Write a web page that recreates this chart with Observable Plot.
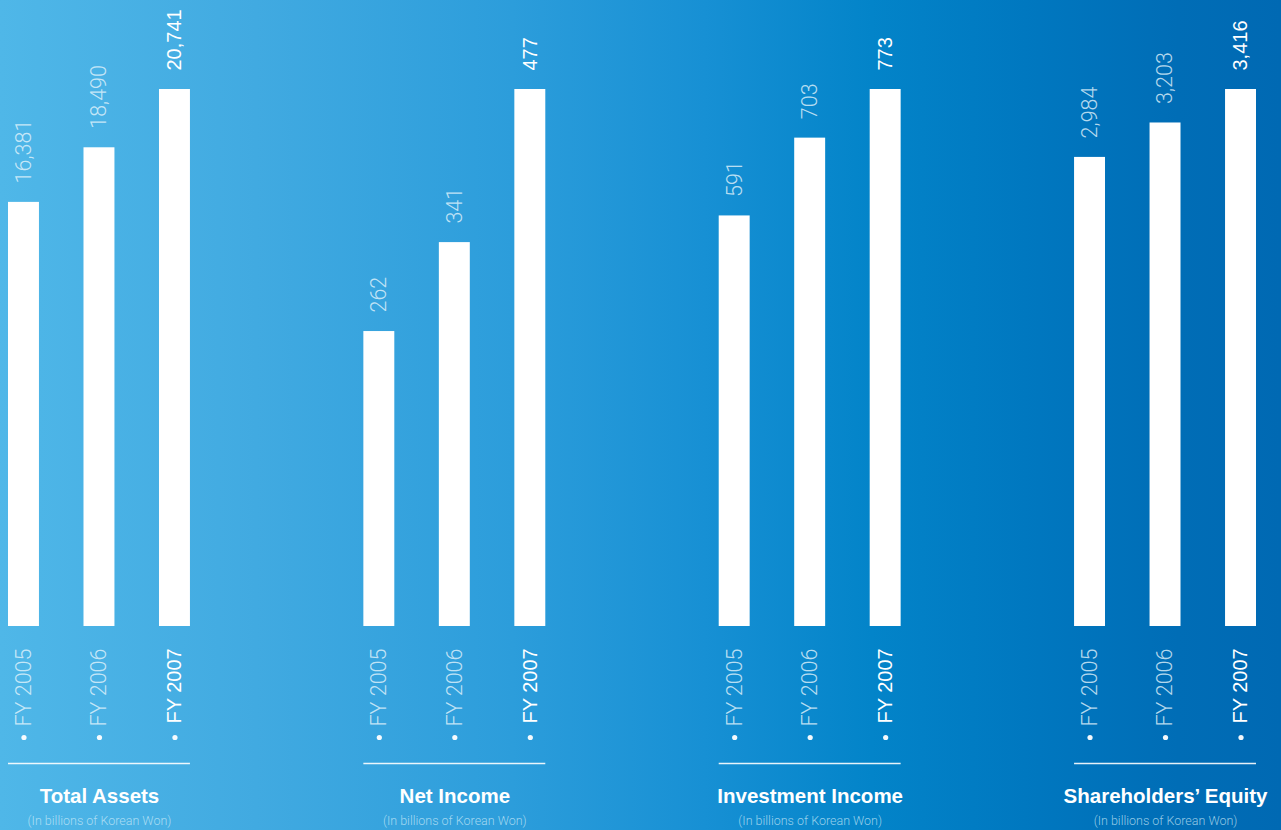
<!DOCTYPE html>
<html>
<head>
<meta charset="utf-8">
<script src="https://cdn.jsdelivr.net/npm/d3@7"></script>
<script src="https://cdn.jsdelivr.net/npm/@observablehq/plot@0.6"></script>
<style>
  html, body { margin: 0; padding: 0; }
  body { width: 1281px; height: 830px; overflow: hidden; }
  #chart svg { display: block; }
</style>
</head>
<body>
<div id="chart"></div>
<script>
const metrics = ["Total Assets", "Net Income", "Investment Income", "Shareholders’ Equity"];
const years = ["FY 2005", "FY 2006", "FY 2007"];
const totalAssets = [16381, 18490, 20741];
const netIncome = [262, 341, 477];
const investmentIncome = [591, 703, 773];
const shareholdersEquity = [2984, 3203, 3416];
const unitNote = "(In billions of Korean Won)";

const seriesValues = [totalAssets, netIncome, investmentIncome, shareholdersEquity];
const data = [];
metrics.forEach((m, i) => {
  const vals = seriesValues[i];
  const max = d3.max(vals);
  years.forEach((y, j) => data.push({metric: m, year: y, value: vals[j], norm: vals[j] / max, latest: j === years.length - 1}));
});
const older = data.filter(d => !d.latest);
const latest = data.filter(d => d.latest);
const fmt = d3.format(",");

const chart = Plot.plot({
  width: 1281,
  height: 830,
  marginTop: 89,
  marginBottom: 204,
  marginLeft: 8,
  marginRight: 25,
  style: {
    background: "linear-gradient(to right, #4fb7e8 0%, #41aae1 20%, #2c9ddb 40%, #1790d4 55%, #0384c9 68%, #0078c0 80%, #006db6 92%, #0069b3 100%)",
    color: "white"
  },
  fx: {domain: metrics, paddingInner: 0.488, paddingOuter: 0, round: false, axis: null},
  x: {domain: years, paddingInner: 0.59, paddingOuter: 0, round: false, axis: null},
  y: {domain: [0, 1], axis: null},
  marks: [
    Plot.barY(data, {fx: "metric", x: "year", y: "norm", fill: "white"}),
    Plot.text(older, {fx: "metric", x: "year", y: "norm", text: d => fmt(d.value), rotate: -90, textAnchor: "start", lineAnchor: "middle", dy: -19, fill: "#e6f5fc", fillOpacity: 0.8, fontSize: 21.5, fontFamily: "Roboto", fontWeight: 300}),
    Plot.text(latest, {fx: "metric", x: "year", y: "norm", text: d => fmt(d.value), rotate: -90, textAnchor: "start", lineAnchor: "middle", dy: -19, fill: "white", fontSize: 20, fontFamily: "Liberation Sans, Arial", fontWeight: 500}),
    Plot.dot(data, {fx: "metric", x: "year", frameAnchor: "bottom", dy: 111, r: 2.6, fill: "white", fillOpacity: 0.95}),
    Plot.text(older, {fx: "metric", x: "year", frameAnchor: "bottom", text: "year", rotate: -90, textAnchor: "start", lineAnchor: "middle", dy: 100, fill: "#e6f5fc", fillOpacity: 0.8, fontSize: 21.5, fontFamily: "Roboto", fontWeight: 300}),
    Plot.text(latest, {fx: "metric", x: "year", frameAnchor: "bottom", text: "year", rotate: -90, textAnchor: "start", lineAnchor: "middle", dy: 97, fill: "white", fontSize: 20, fontFamily: "Liberation Sans, Arial", fontWeight: 500}),
    Plot.ruleY([0], {dy: 137, stroke: "white", strokeWidth: 1.3, strokeOpacity: 0.9}),
    Plot.text(metrics, {fx: d => d, text: d => d, frameAnchor: "bottom", dy: 176, fill: "white", fontSize: 20.5, fontWeight: "bold", fontFamily: "Liberation Sans, Arial"}),
    Plot.text(metrics, {fx: d => d, text: () => unitNote, frameAnchor: "bottom", dy: 198, fill: "#d6effa", fillOpacity: 0.7, fontSize: 12.5, fontFamily: "Roboto", fontWeight: 300})
  ]
});
document.getElementById("chart").appendChild(chart);
</script>
</body>
</html>
